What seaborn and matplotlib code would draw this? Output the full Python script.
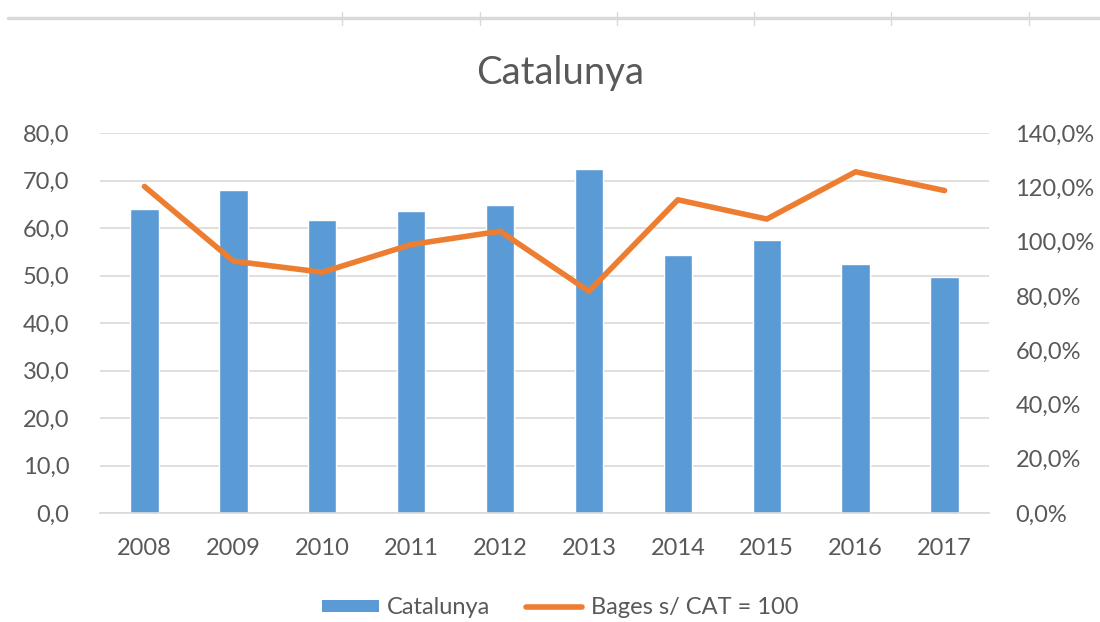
import numpy as np
import pandas as pd
import matplotlib
matplotlib.use("Agg")
import matplotlib.pyplot as plt
from matplotlib.lines import Line2D
from matplotlib.patches import Patch
from matplotlib.ticker import FuncFormatter, MultipleLocator
import seaborn as sns

years = ["2008", "2009", "2010", "2011", "2012", "2013", "2014", "2015", "2016", "2017"]
catalunya = [64.0, 67.9, 61.7, 63.6, 64.8, 72.4, 54.3, 57.5, 52.4, 49.7]
bages_vs_cat = [120.3, 92.8, 88.7, 98.9, 103.8, 81.7, 115.4, 108.3, 125.7, 118.8]

bar_color = "#5B9BD5"
line_color = "#ED7D31"
text_color = "#595959"
grid_color = "#D9D9D9"

sns.set_theme(style="white")
plt.rcParams["font.family"] = ["Lato", "DejaVu Sans"]

df = pd.DataFrame({"year": years, "cat": catalunya, "ratio": bages_vs_cat})
df["pos"] = np.arange(len(years))

fig = plt.figure(figsize=(11, 6.22), dpi=100)
ax = fig.add_axes([100 / 1100, 1 - 513 / 622, 889 / 1100, 380 / 622])

sns.barplot(data=df, x="year", y="cat", color=bar_color, width=0.32,
            saturation=1, ax=ax, zorder=2)
ax.set_xlim(-0.5, len(years) - 0.5)
ax.set_ylim(0, 80)
ax.yaxis.set_major_locator(MultipleLocator(10))
ax.yaxis.set_major_formatter(FuncFormatter(lambda v, _: f"{v:.1f}".replace(".", ",")))
ax.grid(axis="y", color=grid_color, linewidth=1.2, zorder=0)
ax.set_axisbelow(True)
for s in ["top", "right", "left"]:
    ax.spines[s].set_visible(False)
ax.spines["bottom"].set_color(grid_color)
ax.spines["bottom"].set_linewidth(1.2)
ax.set_xlabel("")
ax.set_ylabel("")
ax.tick_params(axis="both", length=0, labelsize=17, colors=text_color)
ax.tick_params(axis="y", pad=22)
ax.tick_params(axis="x", pad=18)

ax2 = ax.twinx()
sns.lineplot(data=df, x="pos", y="ratio", color=line_color, linewidth=4.0,
             ax=ax2, solid_capstyle="round", solid_joinstyle="round")
ax2.set_ylim(0, 140)
ax2.yaxis.set_major_locator(MultipleLocator(20))
ax2.yaxis.set_major_formatter(FuncFormatter(lambda v, _: f"{v:.1f}%".replace(".", ",")))
for s in ["top", "right", "left", "bottom"]:
    ax2.spines[s].set_visible(False)
ax2.set_ylabel("")
ax2.set_xlabel("")
ax2.tick_params(axis="y", length=0, labelsize=17, colors=text_color, pad=19)
ax2.set_xlim(-0.5, len(years) - 0.5)

fig.text(560 / 1100, 1 - 73 / 622, "Catalunya", ha="center", va="center",
         fontsize=27.5, color=text_color)

handles = [Patch(facecolor=bar_color, edgecolor="none"),
           Line2D([0], [0], color=line_color, linewidth=4.0, solid_capstyle="round")]
fig.legend(handles, ["Catalunya", "Bages s/ CAT = 100"], loc="center",
           bbox_to_anchor=(560 / 1100, 1 - 608 / 622), ncol=2, frameon=False,
           fontsize=17, labelcolor=text_color, handlelength=2.4,
           handleheight=0.45, handletextpad=0.35, columnspacing=1.5)

# thin grey rule with small ticks across the top edge
fig.add_artist(Line2D([8 / 1100, 1], [1 - 18 / 622] * 2, color=grid_color,
                      linewidth=2.5, transform=fig.transFigure))
for xp in [342, 480, 617, 754, 891, 1029]:
    fig.add_artist(Line2D([xp / 1100] * 2, [1 - 12 / 622, 1 - 25 / 622],
                          color=grid_color, linewidth=1.0, transform=fig.transFigure))

fig.savefig("out.png", dpi=100, facecolor="white")
